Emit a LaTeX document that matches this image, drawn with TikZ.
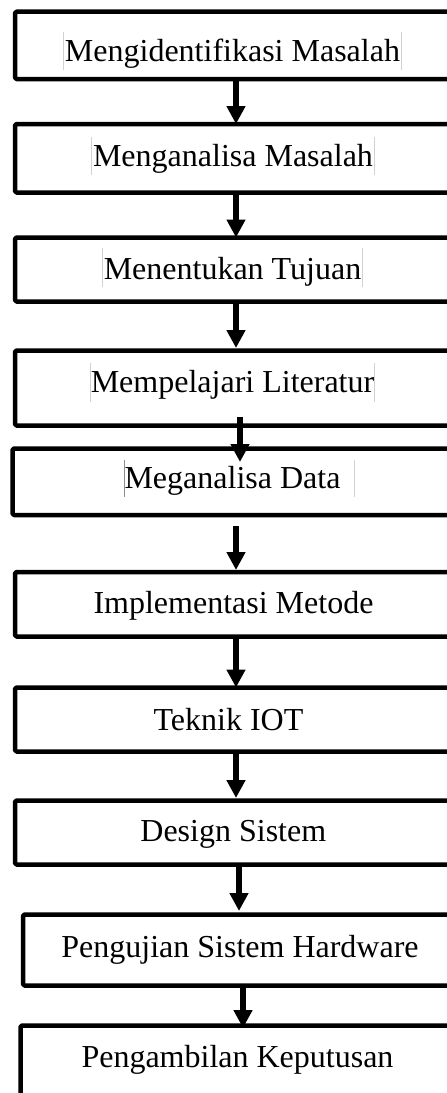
\documentclass[tikz,border=0pt]{standalone}
\usepackage{fontspec}
\setmainfont{Liberation Serif}[Ligatures=CommonOff]
\usetikzlibrary{arrows.meta}
\begin{document}
\begin{tikzpicture}[x=1pt,y=-1pt,
  box/.style={draw=black, line width=4.5pt, rectangle, rounded corners=1.5pt,
    line join=round, inner sep=0pt, outer sep=0pt, fill=none},
  lbl/.style={font=\fontsize{32}{38}\selectfont, inner sep=0pt, anchor=base, text=black},
  arr/.style={draw=black, line width=6pt, -{Triangle[length=18pt,width=18pt]}},
  bar/.style={draw=black!18, line width=0.9pt},
  bardark/.style={draw=black!45, line width=0.9pt}]
\useasboundingbox (0,0) rectangle (447,1093);
\clip (0,0) rectangle (447,1093);
\fill[white] (0,0) rectangle (447,1093);

% boxes
\node[box, minimum width=436pt, minimum height=67.3pt] (b1) at (233,45.35) {};
\node[box, minimum width=436pt, minimum height=68.5pt] (b2) at (233,158.25) {};
\node[box, minimum width=436pt, minimum height=64pt]   (b3) at (233,269.5) {};
\node[box, minimum width=436pt, minimum height=75pt]   (b4) at (233,388) {};
\node[box, minimum width=438.5pt, minimum height=66.5pt] (b5) at (231.75,481.75) {};
\node[box, minimum width=436pt, minimum height=64.5pt] (b6) at (233,604.25) {};
\node[box, minimum width=436pt, minimum height=64pt]   (b7) at (233,719.5) {};
\node[box, minimum width=436pt, minimum height=64pt]   (b8) at (233,832.5) {};
\node[box, minimum width=434pt, minimum height=71pt]   (b9) at (240,950) {};
\node[box, minimum width=434.5pt, minimum height=84.5pt] (b10) at (237.75,1067.75) {};

% labels
\node[lbl] (t1) at (232.5,61) {Mengidentifikasi Masalah};
\node[lbl] (t2) at (233,166) {Menganalisa Masalah};
\node[lbl] (t3) at (232.5,279) {Menentukan Tujuan};
\node[lbl] (t4) at (232.5,392) {Mempelajari Literatur};
\node[lbl] (t5) at (232.5,488) {Meganalisa Data};
\node[lbl] (t6) at (233.5,613) {Implementasi Metode};
\node[lbl] (t7) at (228.5,730) {Teknik IOT};
\node[lbl] (t8) at (233.3,841.7) {Design Sistem};
\node[lbl] (t9) at (240,957) {Pengujian Sistem Hardware};
\node[lbl] (t10) at (237.5,1067) {Pengambilan Keputusan};

% faint text-box cursor bars
\draw[bar] (63.3,32) -- (63.3,70);  \draw[bar] (401,32) -- (401,70);
\draw[bar] (91.7,137) -- (91.7,175); \draw[bar] (374,137) -- (374,175);
\draw[bar] (102.3,248) -- (102.3,287); \draw[bar] (362.7,248) -- (362.7,287);
\draw[bar] (90.7,363) -- (90.7,402); \draw[bar] (374,363) -- (374,402);
\draw[bardark] (124.3,460) -- (124.3,497); \draw[bar] (354,460) -- (354,497);

% arrow x positions
\coordinate (xa) at (236,0);
\coordinate (xb) at (240,0);
\coordinate (xc) at (239,0);
\coordinate (xd) at (243,0);

% connectors
\draw[arr] (b1.south -| xa) -- (b2.north -| xa);
\draw[arr] (b2.south -| xa) -- (b3.north -| xa);
\draw[arr, shorten >=2.5pt] (b3.south -| xa) -- (b4.north -| xa);
\draw[arr, shorten <=-8.5pt, shorten >=-13.5pt] (b4.south -| xb) -- (b5.north -| xb);
\draw[arr, shorten <=11pt, shorten >=2pt] (b5.south -| xa) -- (b6.north -| xa);
\draw[arr, shorten <=2.5pt] (b6.south -| xa) -- (b7.north -| xa);
\draw[arr, shorten <=2.5pt, shorten >=2.5pt] (b7.south -| xa) -- (b8.north -| xa);
\draw[arr, shorten <=2.5pt, shorten >=3.5pt] (b8.south -| xc) -- (b9.north -| xc);
\draw[arr, shorten <=2.5pt, shorten >=-2.5pt] (b9.south -| xd) -- (b10.north -| xd);
\end{tikzpicture}
\end{document}
